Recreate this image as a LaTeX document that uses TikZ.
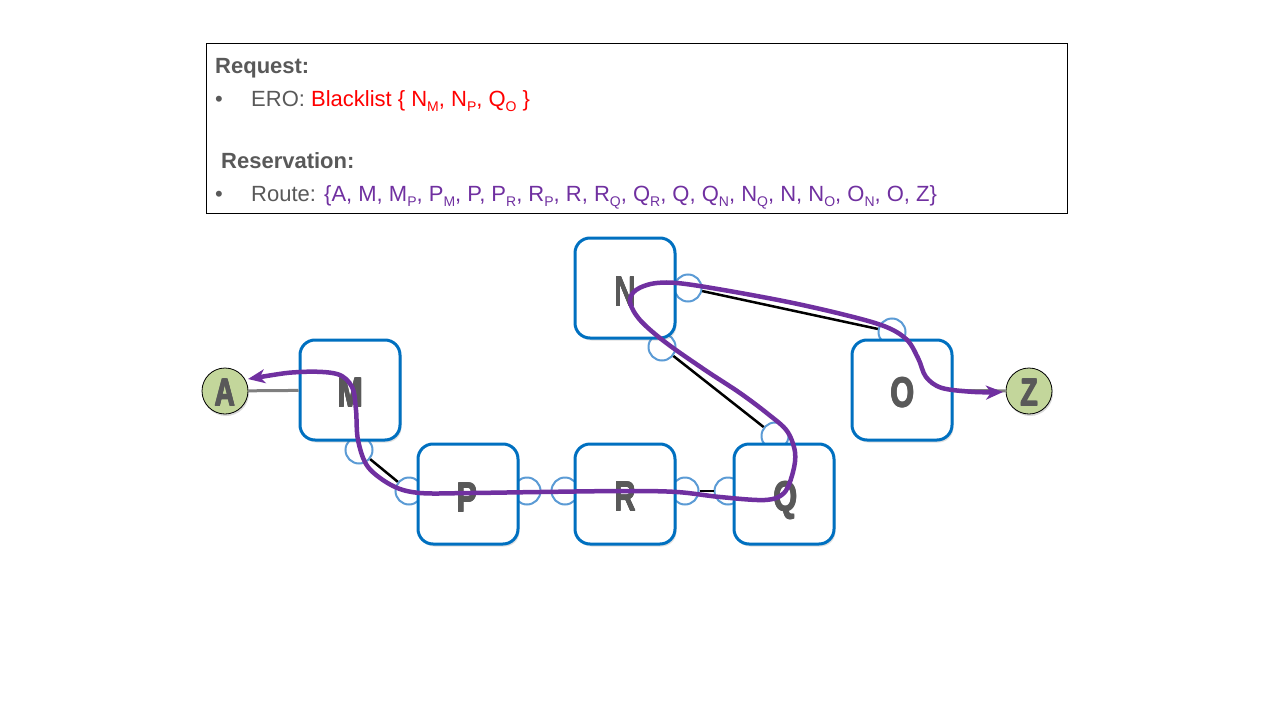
\documentclass[tikz,border=0pt]{standalone}
\usepackage{fontspec}
\setmainfont{Liberation Sans}
\usetikzlibrary{arrows.meta,shadows}
\definecolor{boxblue}{HTML}{0070C0}
\definecolor{portblue}{HTML}{5B9BD5}
\definecolor{endgreen}{HTML}{C3D69B}
\definecolor{routepurple}{HTML}{7030A0}
\definecolor{txtgray}{HTML}{595959}
\definecolor{linkgray}{HTML}{7F7F7F}
\newcommand\sbs[1]{\raisebox{-5pt}{\fontsize{14}{14}\selectfont #1}}
\newcommand\heavyglyph[1]{\makebox[0pt][l]{\hspace{1.2pt}#1}\makebox[0pt][l]{\raisebox{0.6pt}{#1}}\makebox[0pt][l]{\hspace{1.2pt}\raisebox{0.6pt}{#1}}\makebox[0pt][l]{\hspace{0.6pt}#1}#1}
\newcommand\bigletter[1]{\scalebox{0.72}[1]{\heavyglyph{#1}}}
\begin{document}
\begin{tikzpicture}[x=1pt,y=-1pt,
  txt/.style={inner sep=0pt, anchor=base west, font=\fontsize{22}{26}\selectfont, text=txtgray},
  router/.style={draw=boxblue, line width=3pt, fill=white, rounded corners=15pt,
    minimum width=100pt, minimum height=100pt, inner sep=0pt,
    drop shadow={opacity=0.25, shadow xshift=1.5pt, shadow yshift=-2.5pt}},
  endpt/.style={circle, draw=black, line width=0.8pt, fill=endgreen, minimum size=46pt, inner sep=0pt,
    drop shadow={opacity=0.3, shadow xshift=1pt, shadow yshift=-2pt}},
  lbl/.style={inner sep=0pt, anchor=base, font=\fontsize{42}{42}\selectfont\bfseries, text=txtgray},
  endlbl/.style={inner sep=0pt, anchor=base, font=\fontsize{39}{39}\selectfont\bfseries, text=txtgray},
  port/.style={circle, draw=portblue, line width=2pt, fill=white, minimum size=27pt, inner sep=0pt},
  link/.style={draw=black, line width=2.5pt},
  glink/.style={draw=linkgray, line width=3pt},
  route/.style={draw=routepurple, line width=4.5pt, line cap=round, line join=round,
    {Stealth[length=17pt,width=14pt,inset=5pt]}-{Stealth[length=17pt,width=14pt,inset=5pt]}}
]
\useasboundingbox (0,0) rectangle (1280,720);

% header box
\node[draw=black, line width=1pt, minimum width=861pt, minimum height=170pt, anchor=north west, inner sep=0pt] (hdr) at (206,43) {};
\node[txt] (req) at (215,73) {\bfseries Request:};
\node[txt] (b1) at (215,106) {•};
\node[txt] (ero) at (251,106) {ERO: \textcolor{red}{Blacklist \{ N\sbs{M}, N\sbs{P}, Q\sbs{O} \}}};
\node[txt] (res) at (221,168) {\bfseries Reservation:};
\node[txt] (b2) at (215,201) {•};
\node[txt] (rte) at (251,201) {Route: \textcolor{routepurple}{\{A, M, M\sbs{P}, P\sbs{M}, P, P\sbs{R}, R\sbs{P}, R, R\sbs{Q}, Q\sbs{R}, Q, Q\sbs{N}, N\sbs{Q}, N, N\sbs{O}, O\sbs{N}, O, Z\}}};

% ports
\node[port] (Mb) at (359,450) {};
\node[port] (Pl) at (409,491) {};
\node[port] (Pr) at (527,491) {};
\node[port] (Rl) at (565,491) {};
\node[port] (Rr) at (685,491) {};
\node[port] (Ql) at (728,491) {};
\node[port] (Qt) at (775,436) {};
\node[port] (Nr) at (688,288) {};
\node[port] (Nb) at (662,347) {};
\node[port] (Ot) at (892,332) {};

% links between ports
\draw[link] (Mb) -- (Pl);
\draw[link] (Pr) -- (Rl);
\draw[link] (Rr) -- (Ql);
\draw[link] (Nr) -- (Ot);
\draw[link] (Nb) -- (Qt);

% routers
\node[router] (M) at (350,390) {};
\node[router] (N) at (625,288) {};
\node[router] (O) at (902,390) {};
\node[router] (P) at (468,494) {};
\node[router] (R) at (625,494) {};
\node[router] (Q) at (784,494) {};

% end points
\node[endpt] (A) at (225,391) {};
\node[endpt] (Z) at (1029,391) {};
\draw[glink] (A) -- (M);
\draw[glink] (O) -- (Z);

% labels
\node[lbl] (Ml) at (350,407) {\bigletter{M}};
\node[lbl] (Nl) at (625,306) {\bigletter{N}};
\node[lbl] (Ol) at (902,407) {\bigletter{O}};
\node[lbl] (Pl2) at (467,512) {\bigletter{P}};
\node[lbl] (Rl2) at (625,511) {\bigletter{R}};
\node[lbl] (Ql2) at (785,511) {\bigletter{Q}};
\node[endlbl] (Al) at (225,406) {\bigletter{A}};
\node[endlbl] (Zl) at (1029,406) {\bigletter{Z}};

% reserved route
\draw[route] plot[smooth, tension=0.55] coordinates {
  (248,379) (300,372) (337,374) (352,387) (356,410) (358,440) (368,467) (393,486) (420,493)
  (470,493) (540,492) (625,491) (677,492) (720,497) (765,500) (784,493) (793,472)
  (795,452) (787,431) (768,414) (740,393) (705,370) (665,342) (640,320) (630,302)
  (636,290) (657,283) (693,285) (793,303) (875,323) (905,338) (918,358) (926,377)
  (942,388) (975,392) (1003,392)};
\end{tikzpicture}
\end{document}
